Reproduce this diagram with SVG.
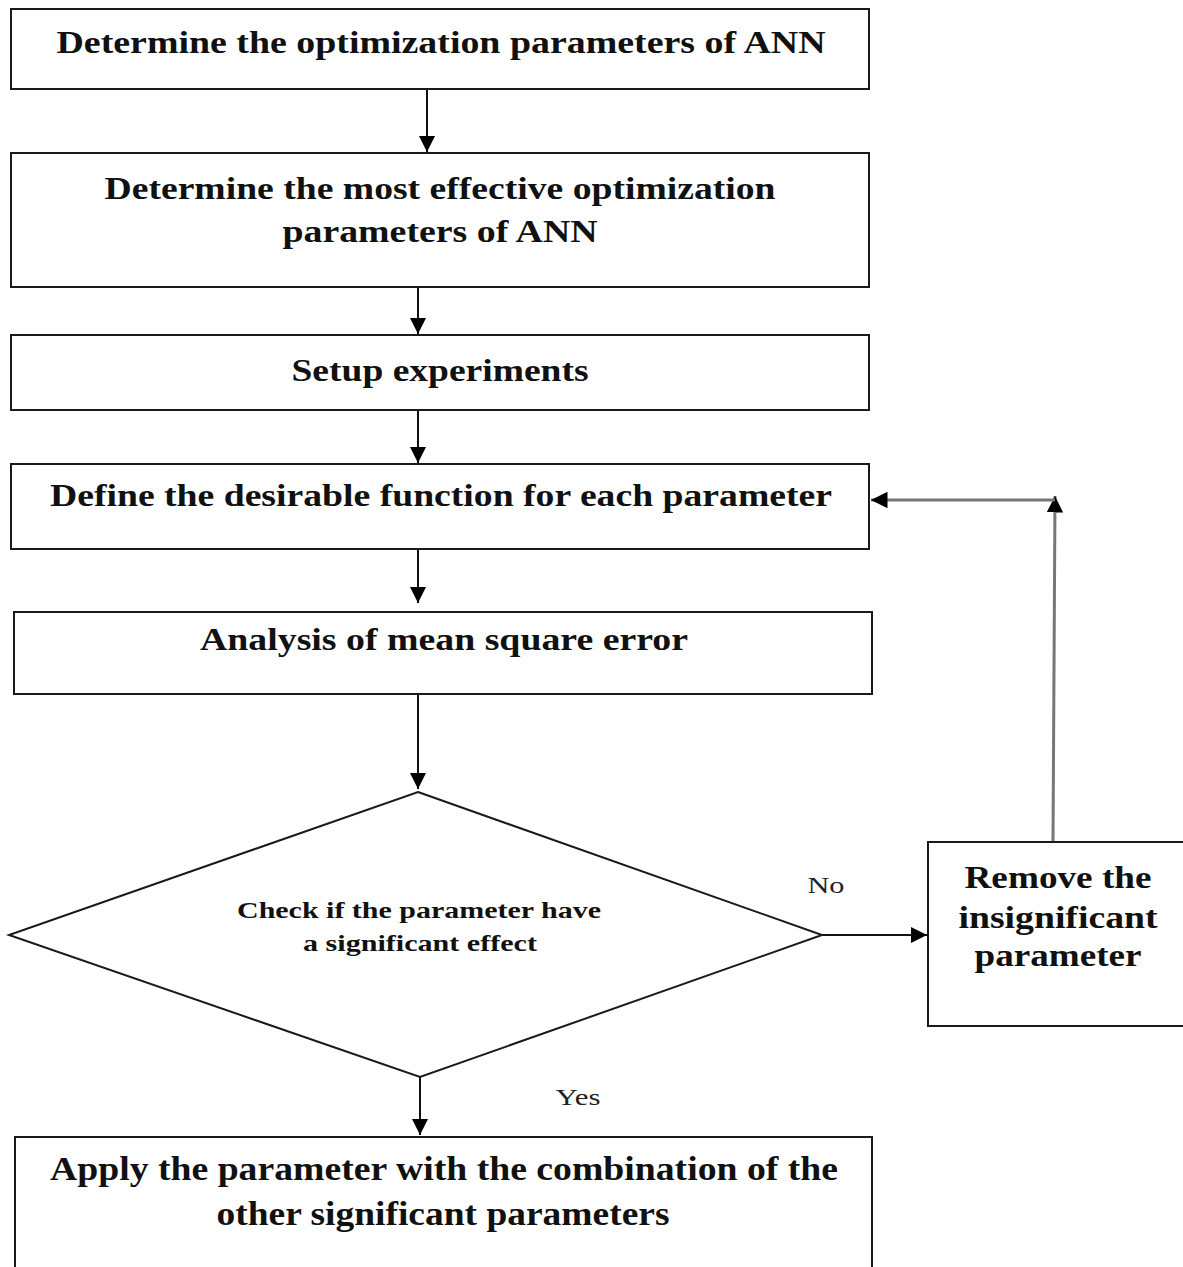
<svg xmlns="http://www.w3.org/2000/svg" width="1183" height="1267" viewBox="0 0 1183 1267">
<style>
.box{fill:#fff;stroke:#1a1a1a;stroke-width:2}
.t{font-family:"Liberation Serif","Times New Roman",serif;font-weight:bold;font-size:32px;fill:#111;text-anchor:middle}
.d{font-family:"Liberation Serif","Times New Roman",serif;font-weight:bold;font-size:24px;fill:#111;text-anchor:middle}
.b{font-family:"Liberation Serif","Times New Roman",serif;font-weight:bold;font-size:34px;fill:#111;text-anchor:middle}
.l{font-family:"Liberation Serif","Times New Roman",serif;font-size:24px;fill:#222;text-anchor:middle}
.c{fill:none;stroke:#111;stroke-width:2}
.g{fill:none;stroke:#777;stroke-width:3}
</style>
<defs>
<marker id="ah" viewBox="0 0 10 10" refX="10" refY="5" markerWidth="8.5" markerHeight="8" markerUnits="strokeWidth" orient="auto">
<path d="M0,0 L10,5 L0,10 z" fill="#000"/>
</marker>
<marker id="ag" viewBox="0 0 10 10" refX="10" refY="5" markerWidth="5.5" markerHeight="5.5" markerUnits="strokeWidth" orient="auto">
<path d="M0,0 L10,5 L0,10 z" fill="#000"/>
</marker>
</defs>
<rect width="1183" height="1267" fill="#fff"/>
<g id="connectors">
<line class="c" x1="427" y1="89" x2="427" y2="152" marker-end="url(#ah)"/>
<line class="c" x1="418" y1="287" x2="418" y2="334" marker-end="url(#ah)"/>
<line class="c" x1="418" y1="410" x2="418" y2="463" marker-end="url(#ah)"/>
<line class="c" x1="418" y1="549" x2="418" y2="603" marker-end="url(#ah)"/>
<line class="c" x1="418" y1="694" x2="418" y2="789" marker-end="url(#ah)"/>
<line class="c" x1="822" y1="935" x2="927" y2="935" marker-end="url(#ah)"/>
<line class="c" x1="420" y1="1077" x2="420" y2="1135" marker-end="url(#ah)"/>
<line class="g" x1="1053" y1="842" x2="1055" y2="496" marker-end="url(#ag)"/>
<line class="g" x1="1055" y1="500" x2="871" y2="500" marker-end="url(#ag)"/>
<text class="l" x="826" y="893" textLength="37" lengthAdjust="spacingAndGlyphs">No</text>
<text class="l" x="578" y="1105" textLength="45" lengthAdjust="spacingAndGlyphs">Yes</text>
</g>
<g id="n1">
<rect class="box" x="11" y="9" width="858" height="80"/>
<text class="t" x="441" y="53" textLength="769" lengthAdjust="spacingAndGlyphs">Determine the optimization parameters of ANN</text>
</g>
<g id="n2">
<rect class="box" x="11" y="153" width="858" height="134"/>
<text class="t" x="440" y="199" textLength="671" lengthAdjust="spacingAndGlyphs">Determine the most effective optimization</text>
<text class="t" x="440" y="242" textLength="315" lengthAdjust="spacingAndGlyphs">parameters of ANN</text>
</g>
<g id="n3">
<rect class="box" x="11" y="335" width="858" height="75"/>
<text class="t" x="440" y="381" textLength="297" lengthAdjust="spacingAndGlyphs">Setup experiments</text>
</g>
<g id="n4">
<rect class="box" x="11" y="464" width="858" height="85"/>
<text class="t" x="441" y="506" textLength="782" lengthAdjust="spacingAndGlyphs">Define the desirable function for each parameter</text>
</g>
<g id="n5">
<rect class="box" x="14" y="612" width="858" height="82"/>
<text class="t" x="444" y="650" textLength="488" lengthAdjust="spacingAndGlyphs">Analysis of mean square error</text>
</g>
<g id="n6">
<polygon class="box" points="418,792 822,935 420,1077 9,935" stroke-width="1.8"/>
<text class="d" x="419" y="918" textLength="364" lengthAdjust="spacingAndGlyphs">Check if the parameter have</text>
<text class="d" x="420" y="951" textLength="234" lengthAdjust="spacingAndGlyphs">a significant effect</text>
</g>
<g id="n7">
<rect class="box" x="928" y="842" width="260" height="184"/>
<text class="t" x="1058" y="888" textLength="187" lengthAdjust="spacingAndGlyphs">Remove the</text>
<text class="t" x="1058" y="928" textLength="199" lengthAdjust="spacingAndGlyphs">insignificant</text>
<text class="t" x="1058" y="966" textLength="167" lengthAdjust="spacingAndGlyphs">parameter</text>
</g>
<g id="n8">
<rect class="box" x="15" y="1137" width="857" height="140"/>
<text class="b" x="444" y="1180" textLength="788" lengthAdjust="spacingAndGlyphs">Apply the parameter with the combination of the</text>
<text class="b" x="443" y="1225" textLength="453" lengthAdjust="spacingAndGlyphs">other significant parameters</text>
</g>
</svg>
